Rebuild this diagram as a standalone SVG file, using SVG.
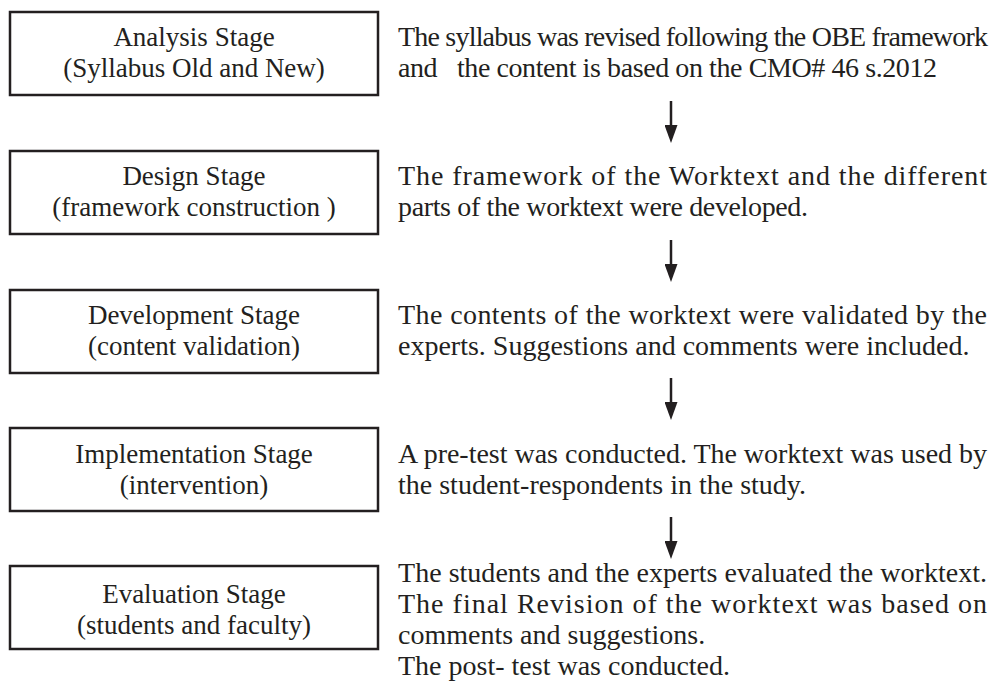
<svg xmlns="http://www.w3.org/2000/svg" width="997" height="688" viewBox="0 0 997 688">
<style>
  .box { fill: #ffffff; stroke: #231f20; stroke-width: 2.5; }
  .lbl { font-family: "Liberation Serif", "Times New Roman", serif; font-size: 27px; fill: #231f20; text-anchor: middle; }
  .desc { font-family: "Liberation Serif", "Times New Roman", serif; font-size: 28px; fill: #231f20; }
  .arrow { stroke: #231f20; stroke-width: 2.5; fill: none; }
</style>
<defs>
  <marker id="head" viewBox="0 -6.5 18 13" refX="0" refY="0" markerWidth="18" markerHeight="13" markerUnits="userSpaceOnUse" orient="auto">
    <path d="M0,-6.5 L18,0 L0,6.5 Z" fill="#231f20"/>
  </marker>
</defs>
<rect width="997" height="688" fill="#ffffff"/>

<g id="analysis">
  <rect class="box" x="10" y="12" width="368" height="83"/>
  <text class="lbl" x="194" y="46">Analysis Stage</text>
  <text class="lbl" x="194" y="77">(Syllabus Old and New)</text>
  <text class="desc" x="398" y="46" textLength="590" lengthAdjust="spacing">The syllabus was revised following the OBE framework</text>
  <text class="desc" x="398" y="77" xml:space="preserve" textLength="539" lengthAdjust="spacing">and   the content is based on the CMO# 46 s.2012</text>
</g>

<g id="design">
  <rect class="box" x="10" y="151" width="368" height="83"/>
  <text class="lbl" x="194" y="185">Design Stage</text>
  <text class="lbl" x="194" y="216">(framework construction )</text>
  <text class="desc" x="398" y="185" textLength="589" lengthAdjust="spacing">The framework of the Worktext and the different</text>
  <text class="desc" x="398" y="216" textLength="410" lengthAdjust="spacing">parts of the worktext were developed.</text>
</g>

<g id="development">
  <rect class="box" x="10" y="290" width="368" height="83"/>
  <text class="lbl" x="194" y="324">Development Stage</text>
  <text class="lbl" x="194" y="355">(content validation)</text>
  <text class="desc" x="398" y="324" textLength="589" lengthAdjust="spacing">The contents of the worktext were validated by the</text>
  <text class="desc" x="398" y="355">experts. Suggestions and comments were included.</text>
</g>

<g id="implementation">
  <rect class="box" x="10" y="428" width="368" height="83"/>
  <text class="lbl" x="194" y="463">Implementation Stage</text>
  <text class="lbl" x="194" y="494">(intervention)</text>
  <text class="desc" x="398" y="463" textLength="589" lengthAdjust="spacing">A pre-test was conducted. The worktext was used by</text>
  <text class="desc" x="398" y="494">the student-respondents in the study.</text>
</g>

<g id="evaluation">
  <rect class="box" x="10" y="566" width="368" height="83"/>
  <text class="lbl" x="194" y="603">Evaluation Stage</text>
  <text class="lbl" x="194" y="634">(students and faculty)</text>
  <text class="desc" x="398" y="582" textLength="589" lengthAdjust="spacing">The students and the experts evaluated the worktext.</text>
  <text class="desc" x="398" y="613" textLength="589" lengthAdjust="spacing">The final Revision of the worktext was based on</text>
  <text class="desc" x="398" y="644">comments and suggestions.</text>
  <text class="desc" x="398" y="675">The post- test was conducted.</text>
</g>

<g id="connectors">
  <line class="arrow" x1="671" y1="101" x2="671" y2="125" marker-end="url(#head)"/>
  <line class="arrow" x1="671" y1="240" x2="671" y2="264" marker-end="url(#head)"/>
  <line class="arrow" x1="671" y1="378" x2="671" y2="402" marker-end="url(#head)"/>
  <line class="arrow" x1="671" y1="517" x2="671" y2="541" marker-end="url(#head)"/>
</g>
</svg>
